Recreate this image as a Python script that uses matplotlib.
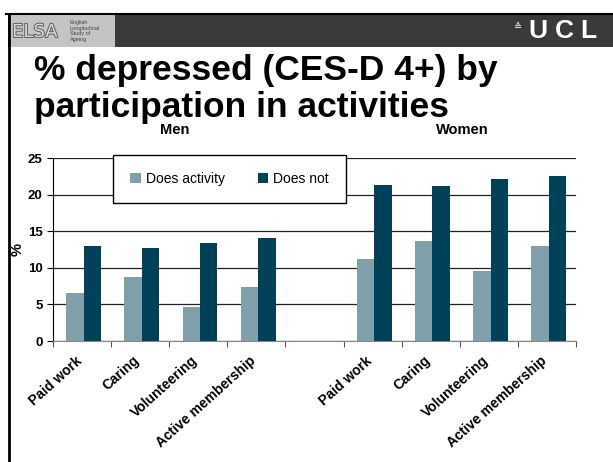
import matplotlib
matplotlib.use("Agg")
import matplotlib.pyplot as plt
import matplotlib.patheffects as pe
from matplotlib.patches import Rectangle
from matplotlib.lines import Line2D

plt.rcParams['font.family'] = ['Liberation Sans', 'DejaVu Sans']

activities = ['Paid work', 'Caring', 'Volunteering', 'Active membership']
men_does = [6.6, 8.8, 4.7, 7.4]
men_not = [13.0, 12.7, 13.4, 14.1]
women_does = [11.2, 13.7, 9.6, 13.0]
women_not = [21.3, 21.2, 22.1, 22.5]
series_labels = ['Does activity', 'Does not']
light = '#7fa0aa'
dark = '#00415a'

W, H = 613, 462
fig = plt.figure(figsize=(W / 100, H / 100), dpi=100)
fig.patch.set_facecolor('white')

# slide decoration: header bar, logo, left border
fig.add_artist(Rectangle((8 / W, 1 - 47 / H), 1, 32 / H, transform=fig.transFigure,
                         facecolor='#3a3a3a', edgecolor='none'))
fig.add_artist(Line2D([6 / W, 1], [1 - 14 / H, 1 - 14 / H], transform=fig.transFigure,
                      color='black', lw=1.5))
fig.add_artist(Line2D([9 / W, 9 / W], [0, 1 - 14 / H], transform=fig.transFigure,
                      color='black', lw=2))
fig.add_artist(Rectangle((10 / W, 1 - 47 / H), 105 / W, 32 / H, transform=fig.transFigure,
                         facecolor='#c4c4c4', edgecolor='none'))
fig.text(12 / W, 1 - 32 / H, 'ELSA', fontsize=13, color='#d8d8d8', va='center', ha='left',
         family='DejaVu Sans',
         path_effects=[pe.withStroke(linewidth=1.3, foreground='#555555')])
fig.text(70 / W, 1 - 31 / H, 'English\nLongitudinal\nStudy of\nAgeing', fontsize=4,
         color='#444444', va='center', ha='left', linespacing=1.1)
for letter, lx in zip('UCL', [538, 564, 588]):
    fig.text(lx / W, 1 - 31 / H, letter, fontsize=19, color='white', fontweight='bold',
             va='center', ha='center')
fig.text(522 / W, 1 - 27 / H, '\u2259', fontsize=7, color='white', va='center', ha='right',
         family='DejaVu Sans')

fig.text(34 / W, 1 - 80 / H, '% depressed (CES-D 4+) by', fontsize=25.5, fontweight='bold',
         va='baseline', ha='left')
fig.text(34 / W, 1 - 117 / H, 'participation in activities', fontsize=25.5, fontweight='bold',
         va='baseline', ha='left')
fig.text(175 / W, 1 - 134 / H, 'Men', fontsize=10.5, fontweight='bold', ha='center',
         va='baseline')
fig.text(462 / W, 1 - 134 / H, 'Women', fontsize=10.5, fontweight='bold', ha='center',
         va='baseline')

ax = fig.add_axes([53 / W, 1 - 341 / H, 523 / W, 183 / H])

labels = activities + [''] + activities
does = men_does + [0] + women_does
does_not = men_not + [0] + women_not
x = list(range(len(labels)))
bw = 0.3
xs_d = [i - bw / 2 + 0.03 for i in x if labels[i]]
xs_n = [i + bw / 2 + 0.03 for i in x if labels[i]]
vd = [v for i, v in enumerate(does) if labels[i]]
vn = [v for i, v in enumerate(does_not) if labels[i]]
ax.bar(xs_d, vd, width=bw, color=light, label=series_labels[0], zorder=3)
ax.bar(xs_n, vn, width=bw, color=dark, label=series_labels[1], zorder=3)

ax.set_xlim(-0.5, len(labels) - 0.5)
ax.set_ylim(0, 25)
ax.set_yticks([0, 5, 10, 15, 20, 25])
ax.yaxis.grid(True, color='#222222', lw=0.9, zorder=0)
ax.set_axisbelow(True)
ax.set_xticks([i - 0.5 for i in range(len(labels) + 1)])
ax.set_xticklabels([])
ax.set_xticks([i - 0.12 for i in x], minor=True)
ax.set_xticklabels(labels, minor=True, rotation=42, ha='right', rotation_mode='anchor',
                   fontsize=10, fontweight='bold')
ax.tick_params(axis='x', which='minor', length=0, pad=9)
ax.tick_params(axis='x', which='major', length=4, direction='out', color='#555555')
ax.tick_params(axis='y', length=4, direction='out', labelsize=9.5)
for lab in ax.get_yticklabels():
    lab.set_fontweight('bold')
for s in ['top', 'right']:
    ax.spines[s].set_visible(False)
ax.spines['bottom'].set_color('#888888')
ax.spines['left'].set_color('black')
ax.set_ylabel('%', fontsize=10.5, fontweight='bold', labelpad=2)

leg = ax.legend(loc='upper left', bbox_to_anchor=(60 / 523, 1.018), ncol=2, frameon=True,
                fancybox=False, edgecolor='black', fontsize=10, handlelength=0.75,
                handleheight=0.75, handletextpad=0.35, columnspacing=2.4, borderpad=1.25,
                borderaxespad=0, framealpha=1)
leg.get_frame().set_linewidth(1)

fig.savefig('out.png', dpi=100)
